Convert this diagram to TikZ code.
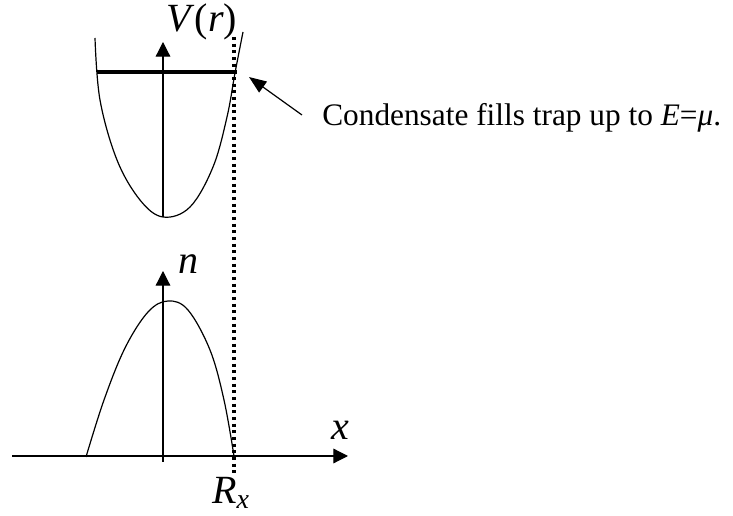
\documentclass[tikz,border=0pt]{standalone}
\usepackage{fontspec}
\setmainfont{Liberation Serif}
\usetikzlibrary{arrows.meta,positioning}
\tikzset{
  axis/.style={-{Triangle[length=11pt,width=11pt]},draw=black,line width=0.9pt},
  curve/.style={draw=black,line width=0.9pt},
  level/.style={draw=black,line width=2.6pt},
  radius/.style={draw=black,line width=2.6pt,dash pattern=on 2.2pt off 2.8pt},
  pointer/.style={-{Triangle[length=13pt,width=10pt]},draw=black,line width=0.9pt},
  lbl/.style={inner sep=0pt,font=\fontsize{30}{32}\selectfont},
  note/.style={inner sep=0pt,anchor=west,font=\fontsize{23.5}{26}\selectfont}
}
\begin{document}
\begin{tikzpicture}[x=0.75pt,y=-0.75pt]
  \useasboundingbox (0,0) rectangle (733,516);

  % Trap potential
  \coordinate (vbase) at (163,217);
  \coordinate (vtop) at (163,42);
  \draw[axis] (vbase) -- (vtop);
  \draw[curve] plot[smooth,tension=0.6] coordinates
    {(95,38) (100,100) (117,160) (140,200) (163,217) (190,207) (213,167) (227,117) (235,73) (243,32)};
  \coordinate (muleft) at (97,72);
  \coordinate (muright) at (237,72);
  \draw[level] (muleft) -- (muright);
  \node[lbl] (vlabel) at (202,22) {\textit{V}(\textit{r})};

  % Density profile
  \coordinate (xstart) at (12,456);
  \coordinate (xend) at (348,456);
  \draw[axis] (xstart) -- (xend);
  \coordinate (nbase) at (163,462);
  \coordinate (ntop) at (163,271);
  \draw[axis] (nbase) -- (ntop);
  \draw[curve] plot[smooth,tension=0.6] coordinates
    {(86,457) (104,400) (125,348) (148,312) (168,301) (188,310) (210,350) (224,400) (234,456)};
  \node[lbl] (nlabel) at (188,264) {\textit{n}};
  \node[lbl] (xlabel) at (340,430) {\textit{x}};

  % Thomas-Fermi radius
  \coordinate (rtop) at (234,37);
  \coordinate (rbottom) at (234,476);
  \draw[radius] (rtop) -- (rbottom);
  \node[lbl] (rlabel) at (231,493) {\textit{R}\textsubscript{\textit{x}}};

  % Note
  \node[note] (cond) at (322,118) {Condensate fills trap up to \textit{E}=\textit{μ}.};
  \coordinate (ptail) at (302,115);
  \coordinate (ptip) at (249,77);
  \draw[pointer] (ptail) -- (ptip);
\end{tikzpicture}
\end{document}
